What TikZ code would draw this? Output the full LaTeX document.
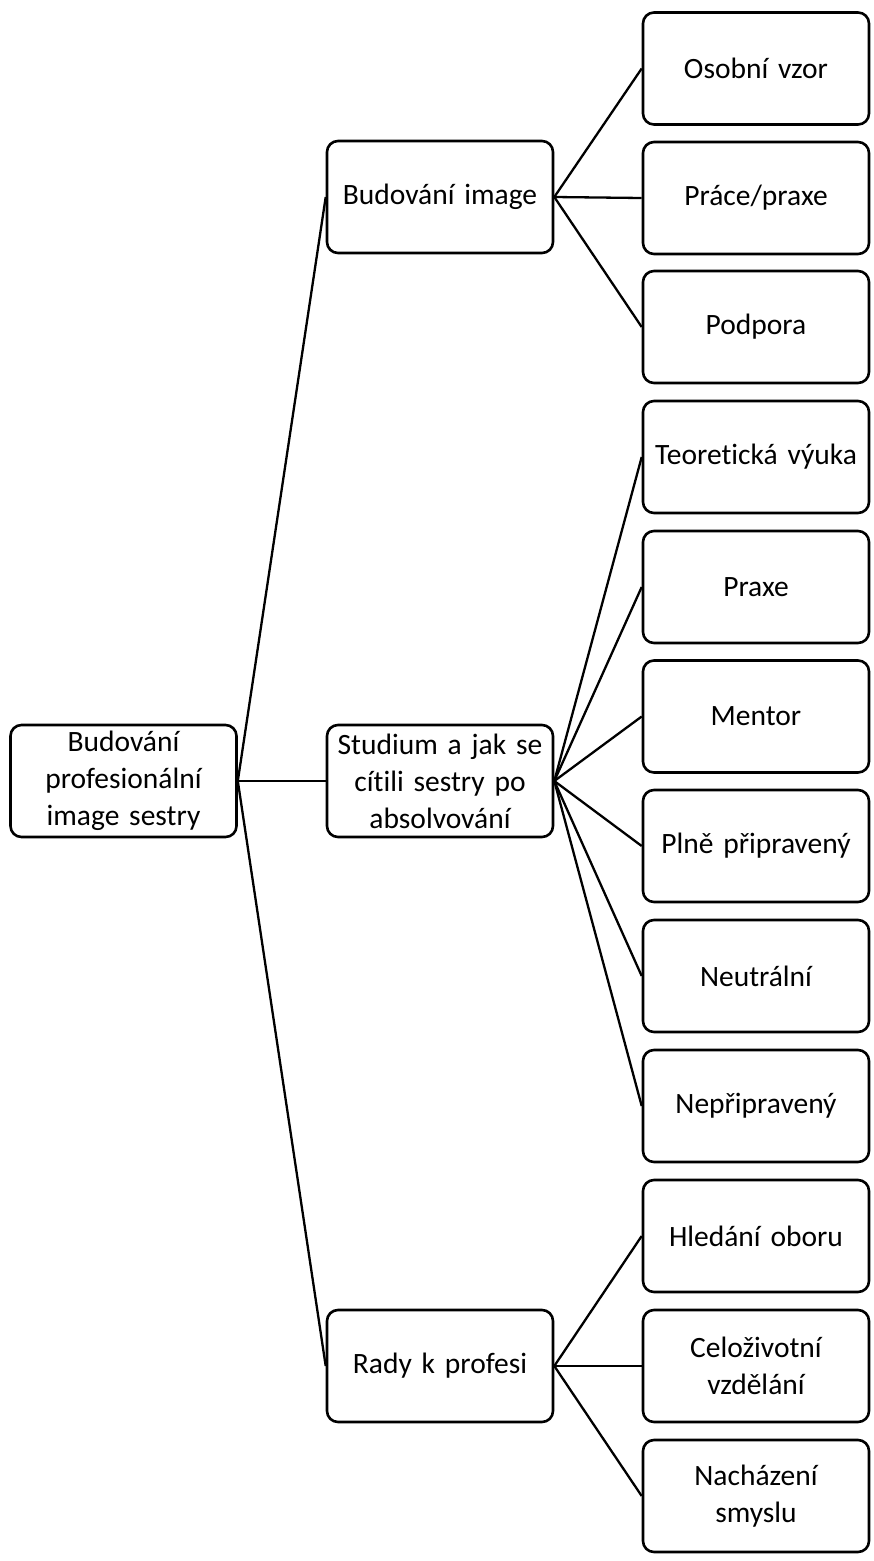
\documentclass[tikz,border=0pt]{standalone}
\usepackage{fontspec}
\setmainfont[RawFeature={-liga;-calt;-dlig;-clig}]{Carlito}
\begin{document}
\begin{tikzpicture}[x=1pt,y=-1pt,
  box/.style={draw=black,line width=2.6pt,rounded corners=11pt,fill=white,
    minimum width=226pt,minimum height=112pt,align=center,inner sep=2pt,
    font=\fontsize{29.5}{37}\selectfont},
  leaf/.style={box},
  conn/.style={line width=2.3pt,black}]
\useasboundingbox (0,0) rectangle (873,1561);
\node[box,text width=218pt] (root) at (123.5,781) {Budování\\profesionální\\image sestry};
\node[box,text width=218pt] (b1) at (440,197) {Budování image};
\node[box,text width=218pt] (b2) at (440,781) {Studium a jak se\\cítili sestry po\\absolvování};
\node[box,text width=218pt] (b3) at (440,1366) {Rady k profesi};
\foreach \n/\y/\t in {l1/68.5/{Osobní vzor},l2/198/{Práce/praxe},l3/327/{Podpora},
  l4/457/{Teoretická výuka},l5/587/{Praxe},l6/716.5/{Mentor},l7/846/{Plně připravený},
  l8/976/{Neutrální},l9/1106/{Nepřipravený},l10/1236/{Hledání oboru},
  l11/1366/{Celoživotní\\vzdělání},l12/1496/{Nacházení\\smyslu}}
  \node[leaf,text width=222pt] (\n) at (756,\y) {\t};
\foreach \c in {b1,b2,b3} \draw[conn] (root.east) -- (\c.west);
\foreach \c in {l1,l2,l3} \draw[conn] (b1.east) -- (\c.west);
\foreach \c in {l4,l5,l6,l7,l8,l9} \draw[conn] (b2.east) -- (\c.west);
\foreach \c in {l10,l11,l12} \draw[conn] (b3.east) -- (\c.west);
\end{tikzpicture}
\end{document}
